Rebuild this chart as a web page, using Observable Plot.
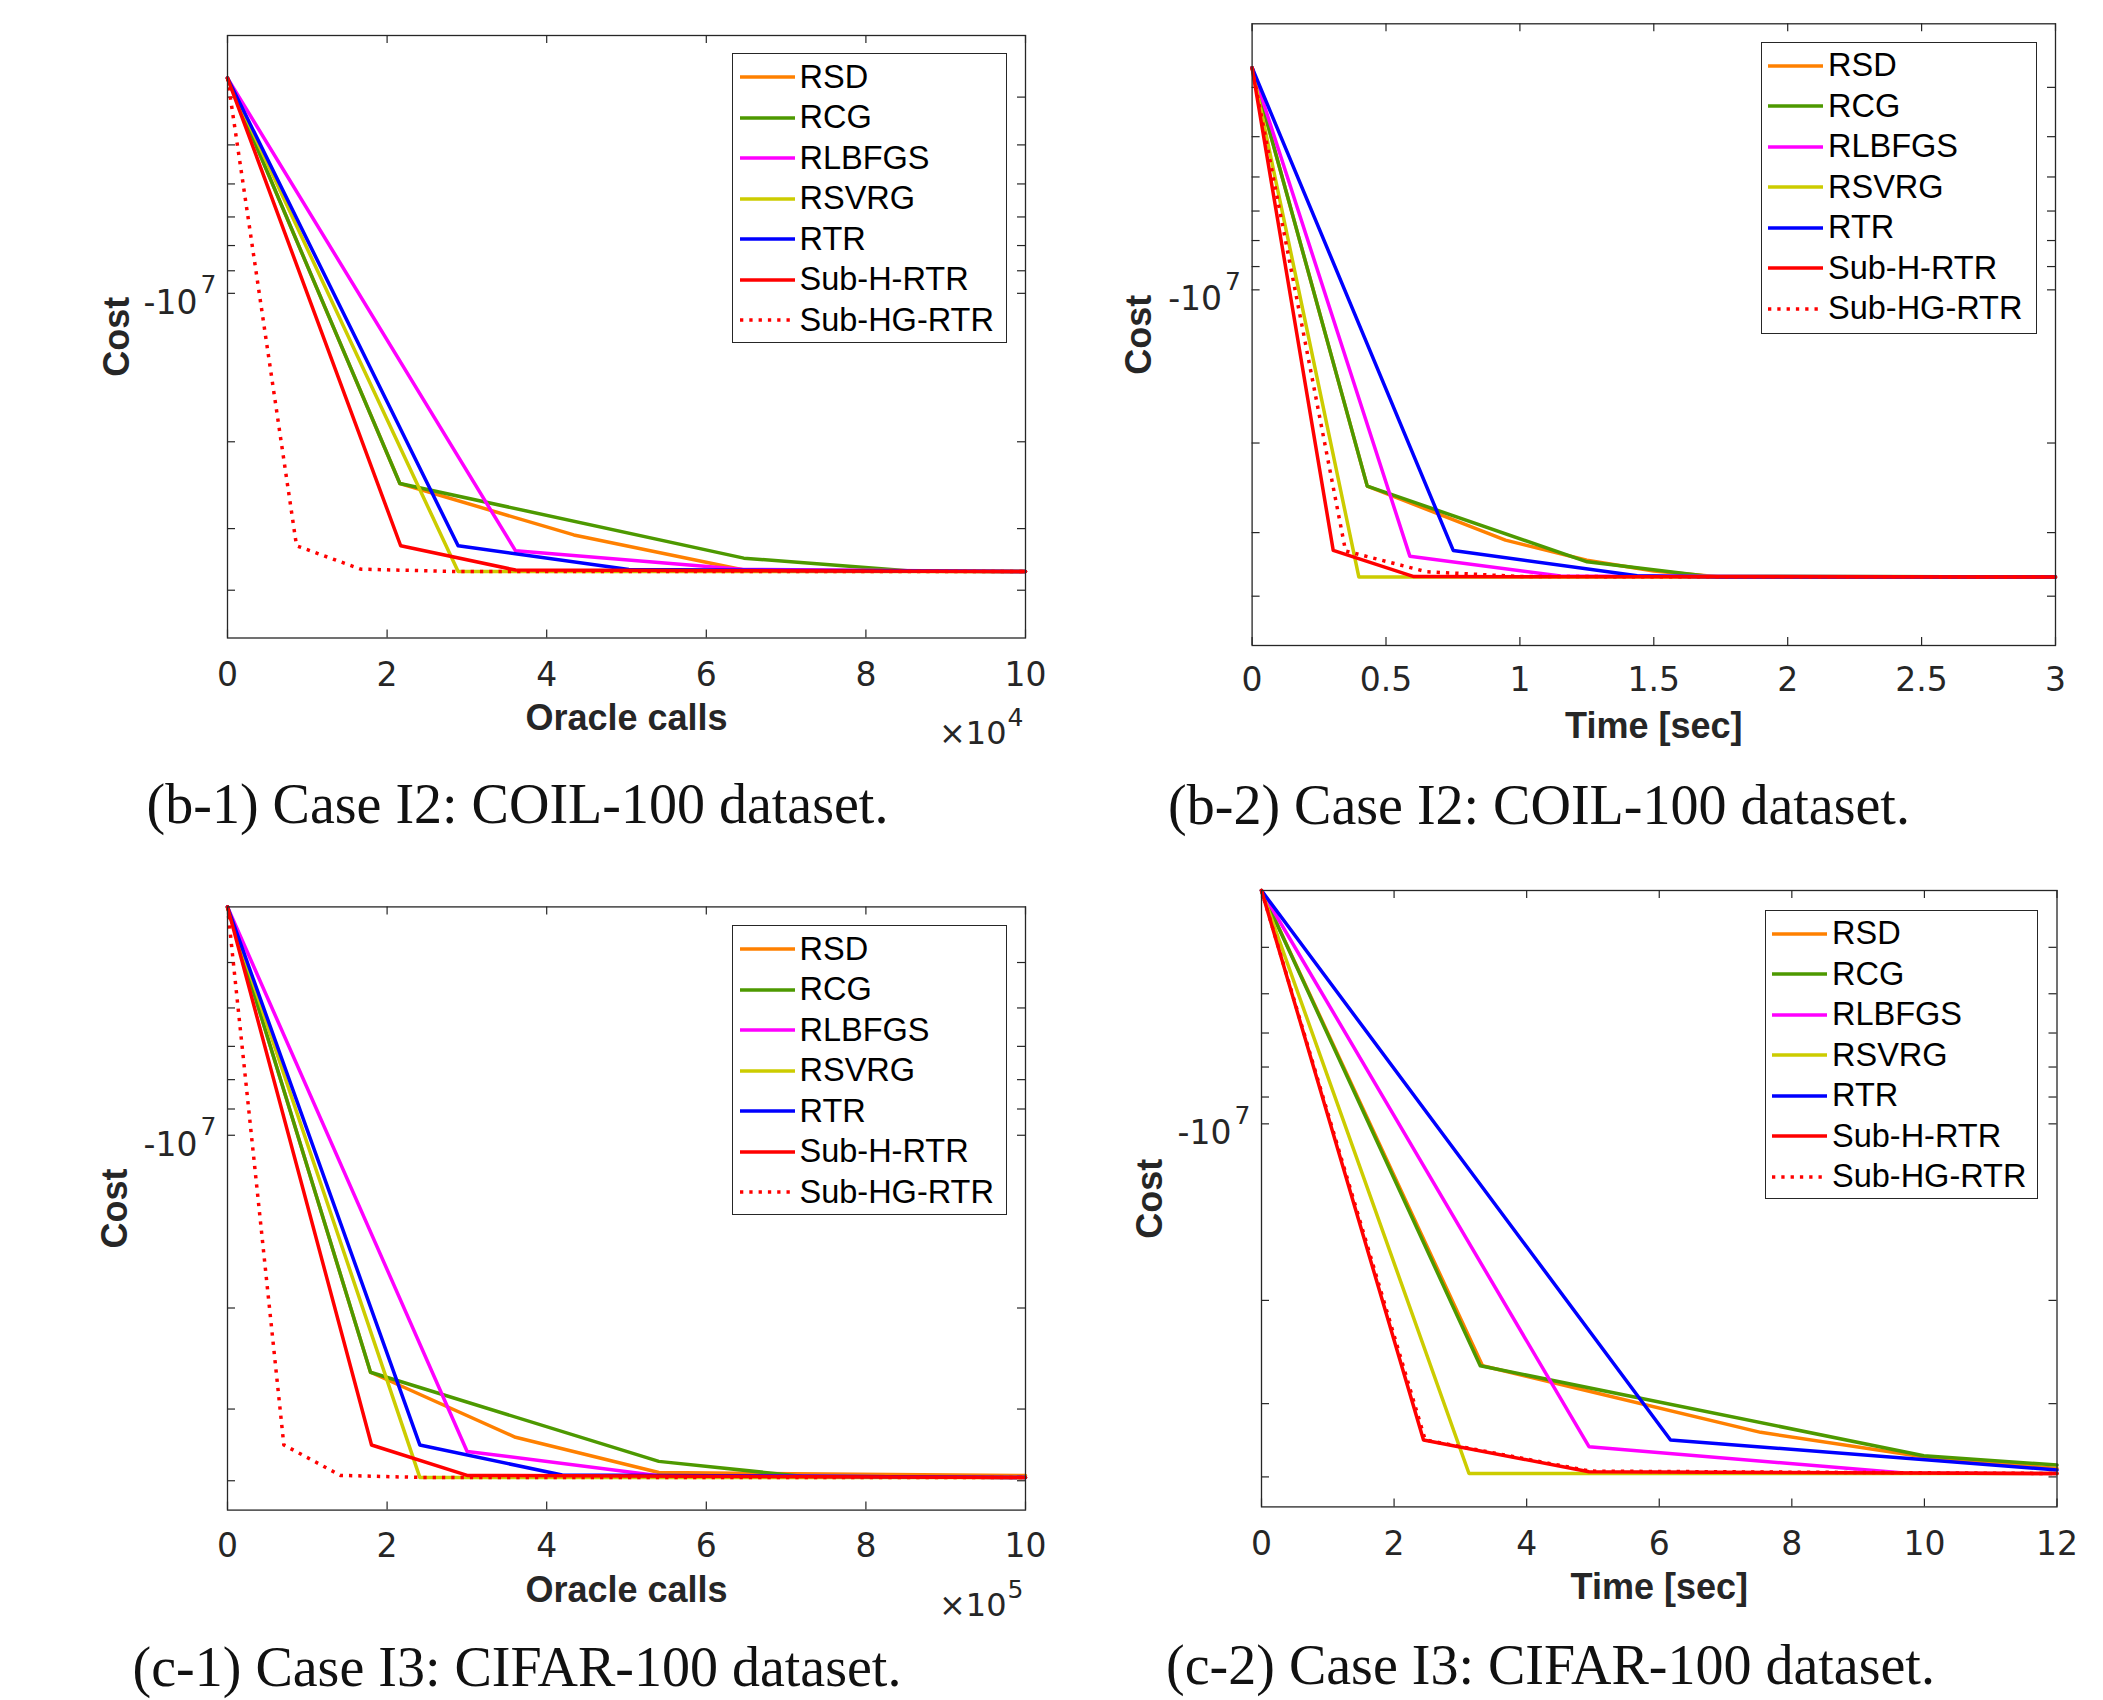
<!DOCTYPE html>
<html><head><meta charset="utf-8">
<script src="https://cdn.jsdelivr.net/npm/d3@7"></script>
<script src="https://cdn.jsdelivr.net/npm/@observablehq/plot@0.6"></script>
<style>
html,body{margin:0;padding:0;background:#fff;}
#root{position:relative;width:2103px;height:1700px;overflow:hidden;background:#fff;}
.panel{position:absolute;}
.caption{position:absolute;font-family:"Liberation Serif","Times New Roman",serif;font-size:56px;color:#111;white-space:nowrap;text-align:center;line-height:56px;}
.legend{position:absolute;background:#fff;border:1.5px solid #262626;box-sizing:border-box;font-family:"Liberation Sans",Arial,sans-serif;font-size:32.5px;color:#000;padding-top:2.75px;}
.legend .row{height:40.5px;line-height:40.5px;display:flex;align-items:center;white-space:nowrap;}
.legend svg{margin-left:6.5px;margin-right:5px;flex:none;}
</style></head><body><div id="root"></div>
<script>
// ---------------- data ----------------
const methods = ["RSD", "RCG", "RLBFGS", "RSVRG", "RTR", "Sub-H-RTR", "Sub-HG-RTR"];
const methodColors = ["#FF8000", "#4D9900", "#FF00FF", "#CCCC00", "#0000FF", "#FF0000", "#FF0000"];
const methodDash = [null, null, null, null, null, null, "3.3,6"];

// (b-1) Case I2, COIL-100: [oracle calls, cost]
const b1_RSD    = [[0,-3.66e6],[21600,-2.43e7],[43400,-3.09e7],[64700,-3.64e7],[100000,-3.666e7]];
const b1_RCG    = [[0,-3.66e6],[21600,-2.43e7],[64700,-3.444e7],[86000,-3.66e7],[100000,-3.666e7]];
const b1_RLBFGS = [[0,-3.66e6],[36100,-3.328e7],[64700,-3.63e7],[100000,-3.666e7]];
const b1_RSVRG  = [[0,-3.66e6],[28900,-3.666e7],[100000,-3.666e7]];
const b1_RTR    = [[0,-3.66e6],[28900,-3.25e7],[50300,-3.63e7],[100000,-3.666e7]];
const b1_SubH   = [[0,-3.66e6],[21700,-3.25e7],[36100,-3.64e7],[100000,-3.666e7]];
const b1_SubHG  = [[0,-3.66e6],[8650,-3.25e7],[16700,-3.626e7],[28900,-3.666e7],[100000,-3.666e7]];

// (b-2) Case I2, COIL-100: [time sec, cost]
const b2_RSD    = [[0,-3.66e6],[0.43,-2.431e7],[0.946,-3.104e7],[1.25,-3.40e7],[1.5,-3.57e7],[1.75,-3.667e7],[3,-3.667e7]];
const b2_RCG    = [[0,-3.66e6],[0.43,-2.431e7],[1.251,-3.424e7],[1.70,-3.653e7],[3,-3.667e7]];
const b2_RLBFGS = [[0,-3.66e6],[0.589,-3.337e7],[1.152,-3.65e7],[3,-3.667e7]];
const b2_RSVRG  = [[0,-3.66e6],[0.3985,-3.667e7],[3,-3.667e7]];
const b2_RTR    = [[0,-3.66e6],[0.751,-3.252e7],[1.438,-3.645e7],[1.75,-3.667e7],[3,-3.667e7]];
const b2_SubH   = [[0,-3.66e6],[0.303,-3.252e7],[0.604,-3.66e7],[3,-3.667e7]];
const b2_SubHG  = [[0,-3.66e6],[0.349,-3.26e7],[0.65,-3.58e7],[1.0,-3.66e7],[3,-3.667e7]];

// (c-1) Case I3, CIFAR-100: [oracle calls, cost]
const c1_RSD    = [[0,-4.0e6],[179200,-2.588e7],[360900,-3.36e7],[540500,-3.87e7],[1000000,-3.918e7]];
const c1_RCG    = [[0,-4.0e6],[179200,-2.588e7],[540500,-3.701e7],[720000,-3.93e7],[1000000,-3.947e7]];
const c1_RLBFGS = [[0,-4.0e6],[300300,-3.556e7],[538000,-3.915e7],[1000000,-3.947e7]];
const c1_RSVRG  = [[0,-4.0e6],[241000,-3.947e7],[1000000,-3.947e7]];
const c1_RTR    = [[0,-4.0e6],[241000,-3.465e7],[419400,-3.91e7],[1000000,-3.947e7]];
const c1_SubH   = [[0,-4.0e6],[180500,-3.465e7],[300300,-3.915e7],[1000000,-3.947e7]];
const c1_SubHG  = [[0,-4.0e6],[70600,-3.465e7],[141600,-3.915e7],[241000,-3.947e7],[1000000,-3.947e7]];

// (c-2) Case I3, CIFAR-100: [time sec, cost]
const c2_RSD    = [[0,-4.0e6],[3.334,-2.585e7],[7.53,-3.358e7],[10.0,-3.70e7],[12,-3.87e7]];
const c2_RCG    = [[0,-4.0e6],[3.30,-2.585e7],[9.99,-3.681e7],[12,-3.818e7]];
const c2_RLBFGS = [[0,-4.0e6],[4.94,-3.553e7],[9.69,-3.94e7],[12,-3.947e7]];
const c2_RSVRG  = [[0,-4.0e6],[3.13,-3.947e7],[12,-3.947e7]];
const c2_RTR    = [[0,-4.0e6],[6.17,-3.46e7],[12,-3.894e7]];
const c2_SubH   = [[0,-4.0e6],[2.444,-3.46e7],[4.94,-3.92e7],[12,-3.947e7]];
const c2_SubHG  = [[0,-4.0e6],[2.47,-3.46e7],[4.96,-3.91e7],[12,-3.947e7]];

// axes
const b1_xDomain = [0, 100000];
const b1_xTicks = [0, 20000, 40000, 60000, 80000, 100000];
const b1_xTickLabels = ["0", "2", "4", "6", "8", "10"];
const b2_xDomain = [0, 3];
const b2_xTicks = [0, 0.5, 1, 1.5, 2, 2.5, 3];
const b2_xTickLabels = ["0", "0.5", "1", "1.5", "2", "2.5", "3"];
const c1_xDomain = [0, 1000000];
const c1_xTicks = [0, 200000, 400000, 600000, 800000, 1000000];
const c1_xTickLabels = ["0", "2", "4", "6", "8", "10"];
const c2_xDomain = [0, 12];
const c2_xTicks = [0, 2, 4, 6, 8, 10, 12];
const c2_xTickLabels = ["0", "2", "4", "6", "8", "10", "12"];

const b_yDomain = [-5e7, -3e6];
const c_yDomain = [-4.5e7, -4e6];
const b_yTicks = [-4e6, -5e6, -6e6, -7e6, -8e6, -9e6, -1e7, -2e7, -3e7, -4e7];
const c_yTicks = [-5e6, -6e6, -7e6, -8e6, -9e6, -1e7, -2e7, -3e7, -4e7];
const yMajorTick = [-1e7];
const yMajorBase = "-10";
const yMajorExp = "7";

const captions = ["(b-1) Case I2: COIL-100 dataset.", "(b-2) Case I2: COIL-100 dataset.",
                  "(c-1) Case I3: CIFAR-100 dataset.", "(c-2) Case I3: CIFAR-100 dataset."];
const xLabels = ["Oracle calls", "Time [sec]", "Oracle calls", "Time [sec]"];
const xExponents = ["4", null, "5", null];
const yLabel = "Cost";

// ---------------- layout ----------------
const panels = [
  {left: 0, top: 0, width: 1050, height: 850, ml: 227, mr: 25, mt: 35, mb: 212.5,
   series: [b1_RSD, b1_RCG, b1_RLBFGS, b1_RSVRG, b1_RTR, b1_SubH, b1_SubHG],
   xDomain: b1_xDomain, xTicks: b1_xTicks, xTickLabels: b1_xTickLabels, yDomain: b_yDomain, yTicks: b_yTicks,
   costDx: -110, tickDy: 37.5, xlabDy: 80.5,
   legend: {left: 732, top: 53, width: 275, height: 290}, cap: {cx: 517.5, base: 823}},
  {left: 1050, top: 0, width: 1053, height: 850, ml: 201.6, mr: 48, mt: 23.3, mb: 205,
   series: [b2_RSD, b2_RCG, b2_RLBFGS, b2_RSVRG, b2_RTR, b2_SubH, b2_SubHG],
   xDomain: b2_xDomain, xTicks: b2_xTicks, xTickLabels: b2_xTickLabels, yDomain: b_yDomain, yTicks: b_yTicks,
   costDx: -112.6, tickDy: 35, xlabDy: 81,
   legend: {left: 1760.5, top: 41.7, width: 276.5, height: 292.7}, cap: {cx: 1539, base: 824}},
  {left: 0, top: 850, width: 1050, height: 850, ml: 227, mr: 25, mt: 56.4, mb: 190.4,
   series: [c1_RSD, c1_RCG, c1_RLBFGS, c1_RSVRG, c1_RTR, c1_SubH, c1_SubHG],
   xDomain: c1_xDomain, xTicks: c1_xTicks, xTickLabels: c1_xTickLabels, yDomain: c_yDomain, yTicks: c_yTicks,
   costDx: -112, tickDy: 36.4, xlabDy: 80.4,
   legend: {left: 732, top: 925, width: 275, height: 290}, cap: {cx: 517, base: 1686}},
  {left: 1050, top: 850, width: 1053, height: 850, ml: 211, mr: 46.5, mt: 40, mb: 193.6,
   series: [c2_RSD, c2_RCG, c2_RLBFGS, c2_RSVRG, c2_RTR, c2_SubH, c2_SubHG],
   xDomain: c2_xDomain, xTicks: c2_xTicks, xTickLabels: c2_xTickLabels, yDomain: c_yDomain, yTicks: c_yTicks,
   costDx: -111, tickDy: 37.6, xlabDy: 80.6,
   legend: {left: 1764.5, top: 909.6, width: 273.5, height: 289.4}, cap: {cx: 1550.5, base: 1684}}
];

const axisColor = "#262626";
const tickFont = "'DejaVu Sans', 'Liberation Sans', sans-serif";
const tickLen = 8;
const root = document.getElementById("root");

panels.forEach((c, p) => {
  const plotW = c.width - c.ml - c.mr, plotH = c.height - c.mt - c.mb;
  const marks = [];
  marks.push(Plot.tickX(c.xTicks, {x: d => d, stroke: axisColor, strokeWidth: 1.2, insetTop: plotH - tickLen}));
  marks.push(Plot.tickX(c.xTicks, {x: d => d, stroke: axisColor, strokeWidth: 1.2, insetBottom: plotH - tickLen}));
  marks.push(Plot.tickY(c.yTicks, {y: d => d, stroke: axisColor, strokeWidth: 1.2, insetRight: plotW - tickLen}));
  marks.push(Plot.tickY(c.yTicks, {y: d => d, stroke: axisColor, strokeWidth: 1.2, insetLeft: plotW - tickLen}));
  c.series.forEach((s, i) => {
    const o = {x: d => d[0], y: d => d[1], stroke: methodColors[i], strokeWidth: 3.5, strokeLinejoin: "round"};
    if (methodDash[i]) { o.strokeDasharray = methodDash[i]; o.strokeLinecap = "butt"; }
    marks.push(Plot.line(s, o));
  });
  marks.push(Plot.frame({stroke: axisColor, strokeWidth: 1.3}));
  // tick labels
  marks.push(Plot.text(c.xTicks, {x: d => d, text: (d, i) => c.xTickLabels[i], frameAnchor: "bottom", dy: c.tickDy,
    fontSize: 33, fontFamily: tickFont, fill: axisColor, textAnchor: "middle", lineAnchor: "middle"}));
  marks.push(Plot.text(yMajorTick, {y: d => d, text: () => yMajorBase, frameAnchor: "left", dx: -30, dy: 10,
    textAnchor: "end", fontSize: 33, fontFamily: tickFont, fill: axisColor, lineAnchor: "middle"}));
  marks.push(Plot.text(yMajorTick, {y: d => d, text: () => yMajorExp, frameAnchor: "left", dx: -27, dy: -8,
    textAnchor: "start", fontSize: 25, fontFamily: tickFont, fill: axisColor, lineAnchor: "middle"}));
  // axis labels
  marks.push(Plot.text([yLabel], {text: d => d, frameAnchor: "left", dx: c.costDx, rotate: -90,
    fontSize: 36, fontWeight: "bold", fill: axisColor, textAnchor: "middle", lineAnchor: "middle"}));
  marks.push(Plot.text([xLabels[p]], {text: d => d, frameAnchor: "bottom", dy: c.xlabDy,
    fontSize: 36, fontWeight: "bold", fill: axisColor, textAnchor: "middle", lineAnchor: "middle"}));
  if (xExponents[p]) {
    marks.push(Plot.text(["\u00d710"], {text: d => d, frameAnchor: "bottom-right", dx: -19, dy: 95.5,
      textAnchor: "end", fontSize: 32, fontFamily: tickFont, fill: axisColor, lineAnchor: "middle"}));
    marks.push(Plot.text([xExponents[p]], {text: d => d, frameAnchor: "bottom-right", dx: -18, dy: 79.5,
      textAnchor: "start", fontSize: 25, fontFamily: tickFont, fill: axisColor, lineAnchor: "middle"}));
  }
  const svg = Plot.plot({
    width: c.width, height: c.height,
    marginLeft: c.ml, marginRight: c.mr, marginTop: c.mt, marginBottom: c.mb,
    x: {domain: c.xDomain, axis: null},
    y: {type: "log", domain: c.yDomain, axis: null},
    style: {fontFamily: "'Liberation Sans', Arial, sans-serif", fontSize: "32px", background: "transparent", overflow: "visible", color: axisColor},
    marks
  });
  const wrap = document.createElement("div");
  wrap.className = "panel";
  wrap.style.left = c.left + "px"; wrap.style.top = c.top + "px";
  wrap.appendChild(svg);
  root.appendChild(wrap);

  // legend
  const lg = document.createElement("div");
  lg.className = "legend";
  Object.assign(lg.style, {left: c.legend.left + "px", top: c.legend.top + "px", width: c.legend.width + "px", height: c.legend.height + "px"});
  methods.forEach((m, i) => {
    const row = document.createElement("div");
    row.className = "row";
    const dash = methodDash[i] ? ` stroke-dasharray="${methodDash[i]}"` : "";
    row.innerHTML = `<svg width="55" height="10"><line x1="0" y1="5" x2="55" y2="5" stroke="${methodColors[i]}" stroke-width="3.5"${dash}/></svg><span>${m}</span>`;
    lg.appendChild(row);
  });
  root.appendChild(lg);

  // caption
  const cap = document.createElement("div");
  cap.className = "caption";
  cap.textContent = captions[p];
  Object.assign(cap.style, {left: (c.cap.cx - 600) + "px", width: "1200px", top: (c.cap.base - 47) + "px"});
  root.appendChild(cap);
});
</script></body></html>
